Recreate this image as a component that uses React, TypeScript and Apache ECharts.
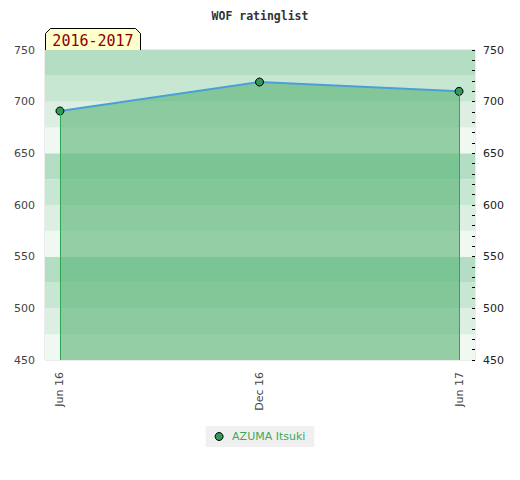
import React, { useEffect, useRef } from "react";
import * as echarts from "echarts";

const monthLabels = ["Jun 16", "Dec 16", "Jun 17"];
const monthIndex = [0, 6, 12];
const ratings = [691, 719, 710];
const seriesName = "AZUMA Itsuki";
const periodLabel = "2016-2017";
const yMin = 450;
const yMax = 750;

export default function App() {
  const ref = useRef<HTMLDivElement>(null);
  useEffect(() => {
    document.body.style.margin = "0";
    const chart = echarts.init(ref.current!, null, { renderer: "svg" });
    const points = monthIndex.map((m, i) => [m, ratings[i]]);
    const first = points[0];
    const last = points[points.length - 1];
    chart.setOption({
      animation: false,
      title: {
        text: "WOF ratinglist",
        left: "center",
        top: 5,
        textStyle: { fontFamily: "DejaVu Sans Mono", fontSize: 11.5, fontWeight: "bold", color: "#333" },
      },
      grid: { left: 45, right: 45, top: 50, bottom: 120, show: true, borderColor: "#d8d8d8", borderWidth: 1, backgroundColor: "transparent" },
      xAxis: {
        type: "value",
        min: -0.45,
        max: 12.48,
        axisLine: { show: false },
        axisTick: { show: false },
        splitLine: { show: false },
        axisLabel: {
          customValues: monthIndex,
          rotate: 90,
          color: "#444",
          fontFamily: "DejaVu Sans",
          fontSize: 11,
          margin: 12,
          formatter: (v: number) => {
            const i = monthIndex.indexOf(Math.round(v));
            return i >= 0 ? monthLabels[i] : "";
          },
        },
      },
      yAxis: [
        {
          type: "value",
          min: yMin,
          max: yMax,
          interval: 25,
          position: "left",
          axisLine: { show: false },
          axisTick: { show: false },
          splitLine: { show: false },
          splitArea: { show: true, areaStyle: { color: ["#eff8f1", "#dcefe2", "#c8e7d3", "#b3dec4"] } },
          axisLabel: {
            color: "#444",
            fontFamily: "DejaVu Sans",
            fontSize: 11,
            margin: 10,
            formatter: (v: number) => (v % 50 === 0 ? String(v) : ""),
          },
        },
        {
          type: "value",
          min: yMin,
          max: yMax,
          interval: 50,
          position: "right",
          axisLine: { show: false },
          axisTick: { show: true, inside: true, length: 3, lineStyle: { color: "#000" } },
          minorTick: { show: true, splitNumber: 5, length: 3, lineStyle: { color: "#000" } },
          splitLine: { show: false },
          axisLabel: { color: "#222", fontFamily: "DejaVu Sans", fontSize: 11, margin: 8 },
        },
      ],
      legend: {
        bottom: 33,
        left: "center",
        backgroundColor: "#f0f0f0",
        padding: [5, 9],
        itemWidth: 8,
        itemHeight: 8,
        itemGap: 10,
        textStyle: { color: "#3aaa5a", fontFamily: "DejaVu Sans", fontSize: 11, padding: [0, 0, 0, 4] },
        data: [{ name: seriesName, icon: "circle", itemStyle: { color: "#2e9a55", borderColor: "#000", borderWidth: 1 } }],
      },
      series: [
        {
          name: seriesName,
          type: "line",
          data: points,
          symbol: "circle",
          symbolSize: 8,
          itemStyle: { color: "#2e9a55", borderColor: "#000", borderWidth: 1 },
          lineStyle: { color: "#4a9fd8", width: 2 },
          areaStyle: { color: "rgba(85,178,115,0.6)", opacity: 1, origin: "start" },
          markLine: {
            symbol: "none",
            silent: true,
            label: { show: false },
            lineStyle: { color: "#2ea854", width: 1, type: "solid" },
            data: [
              [{ coord: [first[0], first[1]] }, { coord: [first[0], yMin] }],
              [{ coord: [last[0], last[1]] }, { coord: [last[0], yMin] }],
            ],
          },
          z: 3,
        },
      ],
      graphic: [
        {
          type: "group",
          left: 45,
          top: 28,
          children: [
            {
              type: "polygon",
              shape: { points: [[0, 22], [0, 5], [5, 0], [90, 0], [95, 5], [95, 22]] },
              style: { fill: "#ffffcc", stroke: "#000", lineWidth: 1 },
            },
            {
              type: "text",
              x: 47.5,
              y: 12,
              style: {
                text: periodLabel,
                fill: "#8b0000",
                fontFamily: "DejaVu Sans Mono",
                fontSize: 15,
                align: "center",
                verticalAlign: "middle",
              },
            },
          ],
        },
      ],
    });
    return () => chart.dispose();
  }, []);
  return <div ref={ref} style={{ width: 520, height: 480 }} />;
}
